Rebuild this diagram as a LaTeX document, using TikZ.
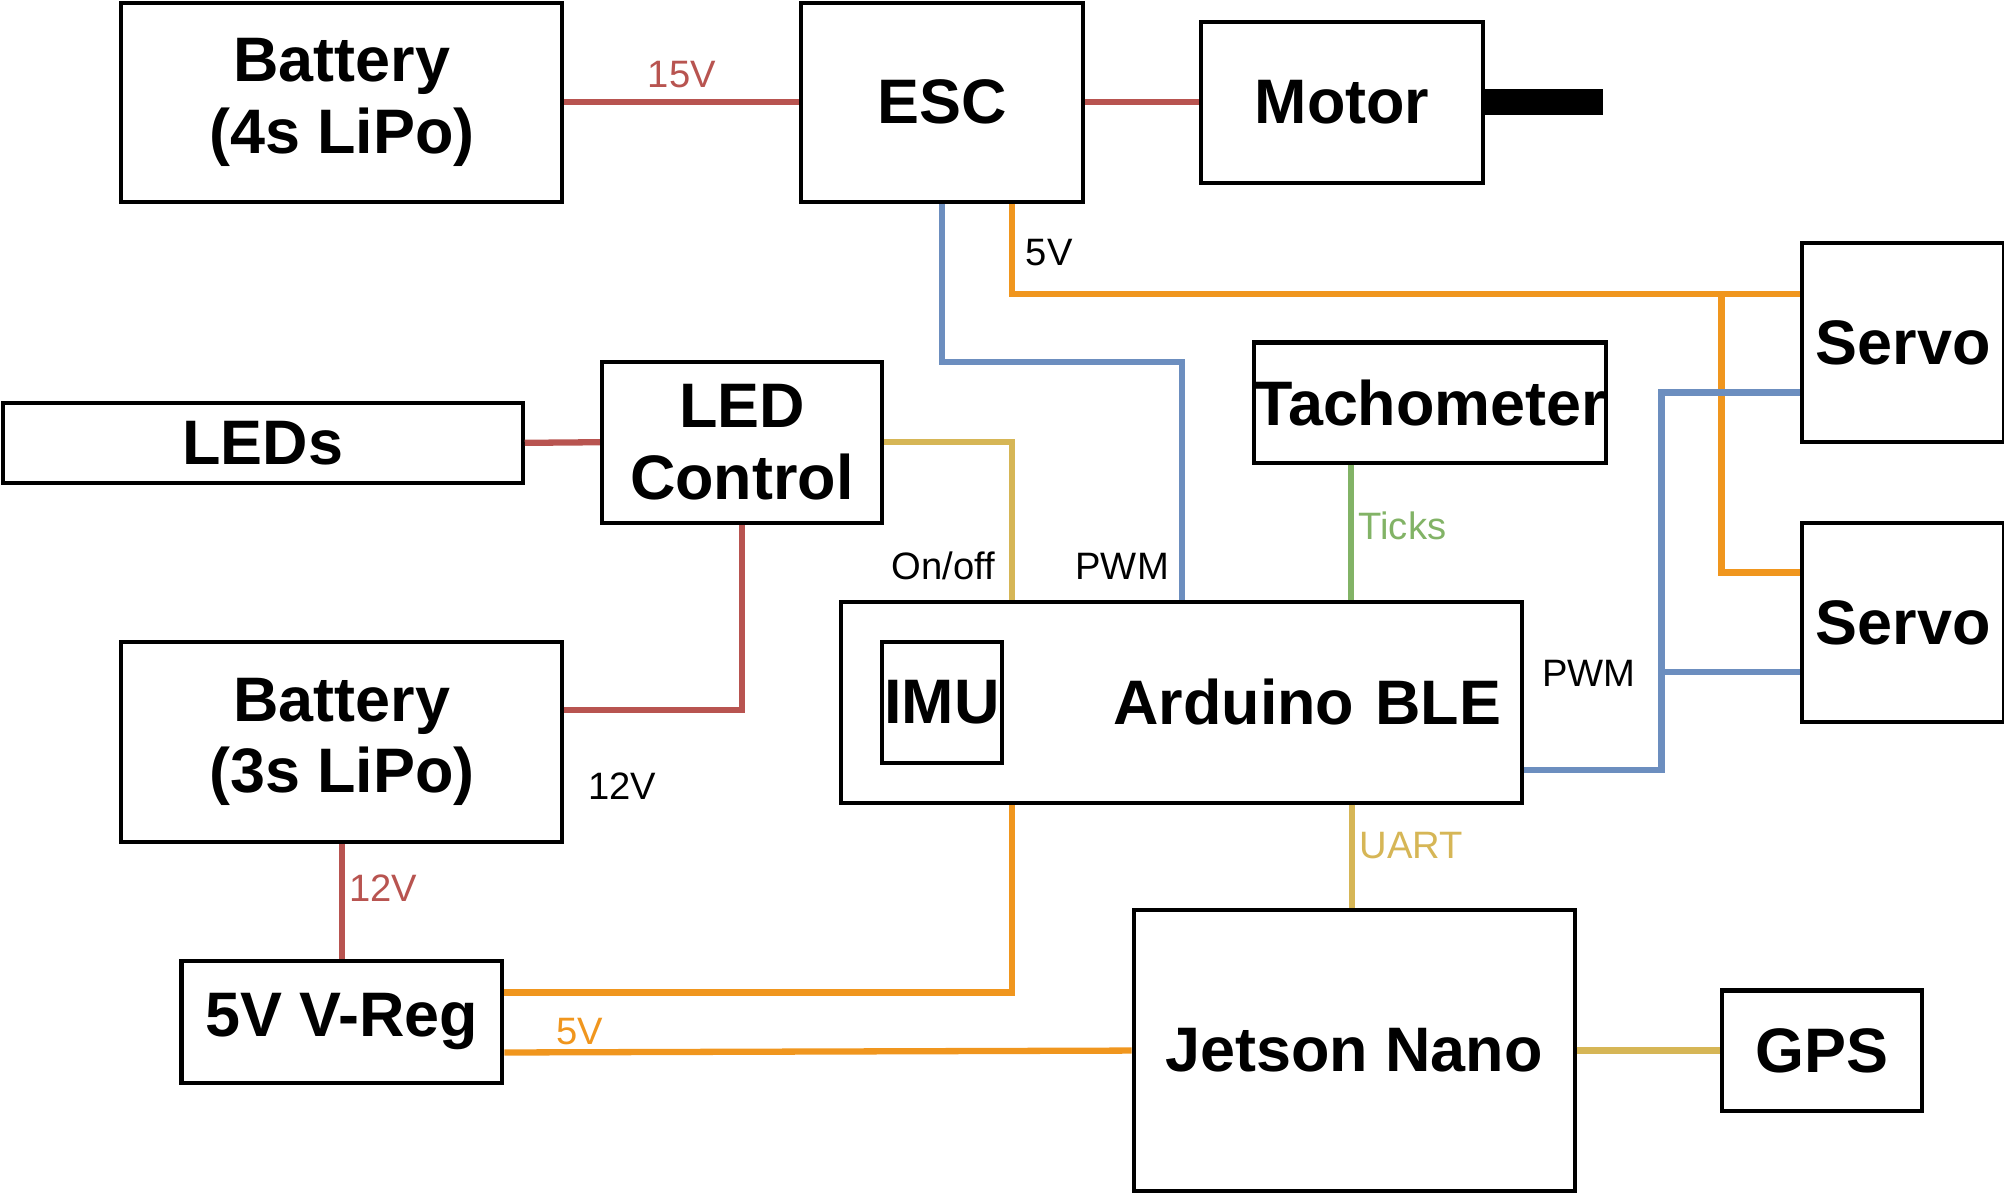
\documentclass[tikz,border=0pt]{standalone}
\usepackage{fontspec}
\setmainfont{Liberation Sans}
\usetikzlibrary{calc}
\definecolor{wred}{HTML}{B85450}
\definecolor{worange}{HTML}{F0961E}
\definecolor{wblue}{HTML}{6C8EBF}
\definecolor{wgreen}{HTML}{82B366}
\definecolor{wyellow}{HTML}{D6B656}
\tikzset{
  box/.style={draw, line width=0.9pt, font=\fontsize{14}{16}\selectfont\bfseries, align=center, inner sep=0pt},
  wire/.style={line width=1.4pt},
  lbl/.style={font=\fontsize{8.5}{10}\selectfont, inner sep=1pt}
}
\begin{document}
\begin{tikzpicture}
  \useasboundingbox (0,0) rectangle (15.68,-9.33);

  % Boxes
  \node[box, minimum width=3.45cm, minimum height=1.56cm] (bat4) at (2.675,-0.80) {Battery\\(4s LiPo)};
  \node[box, minimum width=2.20cm, minimum height=1.56cm] (esc) at (7.37,-0.80) {ESC};
  \node[box, minimum width=2.20cm, minimum height=1.26cm] (motor) at (10.50,-0.80) {Motor};
  \node[box, minimum width=1.58cm, minimum height=1.56cm] (servoa) at (14.89,-2.68) {Servo};
  \node[box, minimum width=1.58cm, minimum height=1.56cm] (servob) at (14.89,-4.87) {Servo};
  \node[box, minimum width=2.52cm, minimum height=0.94cm] (tacho) at (11.19,-3.15) {Tachometer};
  \node[box, minimum width=4.07cm, minimum height=0.63cm] (leds) at (2.055,-3.465) {LEDs};
  \node[box, minimum width=2.19cm, minimum height=1.26cm] (ledc) at (5.805,-3.46) {LED\\Control};
  \node[box, minimum width=3.45cm, minimum height=1.57cm] (bat3) at (2.675,-5.805) {Battery\\(3s LiPo)};
  \node[box, minimum width=5.33cm, minimum height=1.57cm, text width=5.0cm, align=right] (ard) at (9.245,-5.495) {Arduino BLE};
  \node[box, minimum width=0.94cm, minimum height=0.95cm] (imu) at (7.37,-5.495) {IMU};
  \node[box, minimum width=2.51cm, minimum height=0.95cm] (vreg) at (2.675,-7.995) {5V V-Reg};
  \node[box, minimum width=3.45cm, minimum height=2.20cm] (jet) at (10.595,-8.22) {Jetson Nano};
  \node[box, minimum width=1.57cm, minimum height=0.94cm] (gps) at (14.255,-8.22) {GPS};

  % Motor shaft
  \fill (motor.east) ++(0,0.10) rectangle ++(0.93,-0.20);

  % Power lines
  \draw[wire, wred] (bat4.east) -- node[lbl, above, pos=0.5, yshift=0.05cm] {15V} (esc.west);
  \draw[wire, wred] (esc.east) -- (motor.west);
  \draw[wire, wred] (leds.east) -- (ledc.west);
  \draw[wire, wred] ($(bat3.east)+(0,0.25)$) -| (ledc.south);
  \node[lbl] (v12a) at (4.87,-6.15) {12V};
  \draw[wire, wred] (bat3.south) -- node[lbl, right, pos=0.38] {12V} (vreg.north);

  % 5V from ESC to servos
  \coordinate (escv) at ($(esc.south)+(0.55,0)$);
  \coordinate (split) at (13.47,-2.30);
  \draw[wire, worange] (escv) |- (servoa.west |- split);
  \node[lbl] (v5a) at (8.21,-1.98) {5V};
  \draw[wire, worange] (split) |- ($(servob.west)+(0,0.39)$);

  % 5V from V-Reg
  \draw[wire, worange] ($(vreg.east)+(0,0.23)$) -| ($(ard.south)+(-1.325,0)$);
  \draw[wire, worange] ($(vreg.east)+(0,-0.24)$) -- node[lbl, above, pos=0.12] {5V} (jet.west);

  % Signals
  \coordinate (escp) at ($(esc.south)$);
  \draw[wire, wblue] (escp) |- (9.25,-2.83) -- ($(ard.north)+(0.005,0)$);
  \node[lbl] (pwma) at (8.78,-4.43) {PWM};
  \draw[wire, wblue] ($(ard.east)+(0,-0.53)$) -- (13.00,-6.025) |- (servoa.west |- 0,-3.07);
  \draw[wire, wblue] (13.00,-5.26) -- (servob.west |- 0,-5.26);
  \node[lbl] (pwmb) at (12.43,-5.27) {PWM};
  \draw[wire, wgreen] (tacho.south -| 10.57,0) -- node[lbl, right, pos=0.45] {Ticks} (ard.north -| 10.57,0);
  \draw[wire, wyellow] (ledc.east) -| (ard.north -| 7.92,0);
  \node[lbl] (onoff) at (7.38,-4.43) {On/off};
  \draw[wire, wyellow] (ard.south -| 10.58,0) -- node[lbl, right, pos=0.4] {UART} (jet.north -| 10.58,0);
  \draw[wire, wyellow] (jet.east) -- (gps.west);
\end{tikzpicture}
\end{document}
